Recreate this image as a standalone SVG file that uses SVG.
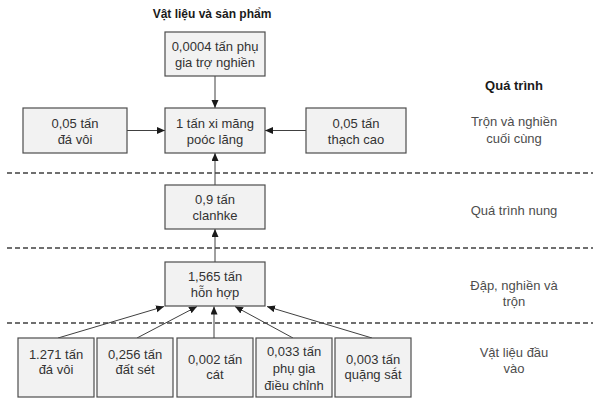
<svg xmlns="http://www.w3.org/2000/svg" width="593" height="399" viewBox="0 0 593 399">
<style>
.box{fill:#f2f2f2;stroke:#4d4d4d;stroke-width:1.2}
.t{font-family:"Liberation Sans",Arial,sans-serif;font-size:13px;fill:#333;text-anchor:middle}
.lbl{font-family:"Liberation Sans",Arial,sans-serif;font-size:13px;fill:#4d4d4d;text-anchor:middle}
.hd{font-family:"Liberation Sans",Arial,sans-serif;font-weight:bold;fill:#1a1a1a;text-anchor:middle}
.dash{stroke:#404040;stroke-width:1.5;stroke-dasharray:5,3;fill:none}
.c{stroke:#404040;stroke-width:1;fill:none;marker-end:url(#ah)}
</style>
<defs>
<marker id="ah" markerUnits="userSpaceOnUse" markerWidth="9" markerHeight="8" refX="8" refY="3.5" orient="auto">
<path d="M0,0 L8,3.5 L0,7 z" fill="#1a1a1a"/>
</marker>
</defs>
<rect width="593" height="399" fill="#fff"/>

<g id="headers">
<text class="hd" x="212" y="18" font-size="12">Vật liệu và sản phẩm</text>
<text class="hd" x="514" y="90" font-size="13">Quá trình</text>
</g>

<g id="stages">
<text class="lbl" x="514" y="126">Trộn và nghiền</text>
<text class="lbl" x="514" y="143">cuối cùng</text>
<text class="lbl" x="514" y="215">Quá trình nung</text>
<text class="lbl" x="514" y="290">Đập, nghiền và</text>
<text class="lbl" x="514" y="306">trộn</text>
<text class="lbl" x="514" y="357">Vật liệu đầu</text>
<text class="lbl" x="514" y="373">vào</text>
</g>

<g id="separators">
<line class="dash" x1="7" y1="173" x2="593" y2="173"/>
<line class="dash" x1="7" y1="248" x2="593" y2="248"/>
<line class="dash" x1="7" y1="323" x2="593" y2="323"/>
</g>

<g id="connectors">
<line class="c" x1="215" y1="76" x2="215" y2="108"/>
<line class="c" x1="127" y1="130.5" x2="165" y2="130.5"/>
<line class="c" x1="306" y1="130.5" x2="265" y2="130.5"/>
<line class="c" x1="215" y1="185" x2="215" y2="153"/>
<line class="c" x1="215" y1="262" x2="215" y2="229"/>
<line class="c" x1="58" y1="338" x2="164" y2="306.5"/>
<line class="c" x1="137" y1="338" x2="197" y2="306.5"/>
<line class="c" x1="214" y1="338" x2="214" y2="306.5"/>
<line class="c" x1="293" y1="338" x2="235" y2="306.5"/>
<line class="c" x1="372" y1="338" x2="267" y2="306.5"/>
</g>

<g id="phu-gia-tro-nghien">
<rect class="box" x="165" y="32" width="100" height="44"/>
<text class="t" x="215" y="51">0,0004 tấn phụ</text>
<text class="t" x="215" y="67">gia trợ nghiền</text>
</g>

<g id="xi-mang">
<rect class="box" x="165" y="108" width="100" height="45"/>
<text class="t" x="215" y="128">1 tấn xi măng</text>
<text class="t" x="215" y="144">poóc lăng</text>
</g>

<g id="da-voi-top">
<rect class="box" x="23" y="108" width="104" height="45"/>
<text class="t" x="75" y="128">0,05 tấn</text>
<text class="t" x="75" y="144">đá vôi</text>
</g>

<g id="thach-cao">
<rect class="box" x="306" y="108" width="100" height="45"/>
<text class="t" x="356" y="128">0,05 tấn</text>
<text class="t" x="356" y="144">thạch cao</text>
</g>

<g id="clanhke">
<rect class="box" x="165" y="185" width="100" height="44"/>
<text class="t" x="215" y="204">0,9 tấn</text>
<text class="t" x="215" y="220">clanhke</text>
</g>

<g id="hon-hop">
<rect class="box" x="165" y="262" width="100" height="44"/>
<text class="t" x="215" y="281">1,565 tấn</text>
<text class="t" x="215" y="297">hỗn hợp</text>
</g>

<g id="da-voi">
<rect class="box" x="18" y="338" width="76" height="59"/>
<text class="t" x="56" y="359">1.271 tấn</text>
<text class="t" x="56" y="374">đá vôi</text>
</g>

<g id="dat-set">
<rect class="box" x="97" y="338" width="76" height="59"/>
<text class="t" x="135" y="359">0,256 tấn</text>
<text class="t" x="135" y="374">đất sét</text>
</g>

<g id="cat">
<rect class="box" x="177" y="338" width="76" height="59"/>
<text class="t" x="215" y="364">0,002 tấn</text>
<text class="t" x="215" y="379">cát</text>
</g>

<g id="phu-gia-dieu-chinh">
<rect class="box" x="256" y="338" width="76" height="59"/>
<text class="t" x="294" y="356">0,033 tấn</text>
<text class="t" x="294" y="373">phụ gia</text>
<text class="t" x="294" y="390">điều chỉnh</text>
</g>

<g id="quang-sat">
<rect class="box" x="335" y="338" width="76" height="59"/>
<text class="t" x="373" y="364">0,003 tấn</text>
<text class="t" x="373" y="379">quặng sắt</text>
</g>
</svg>
